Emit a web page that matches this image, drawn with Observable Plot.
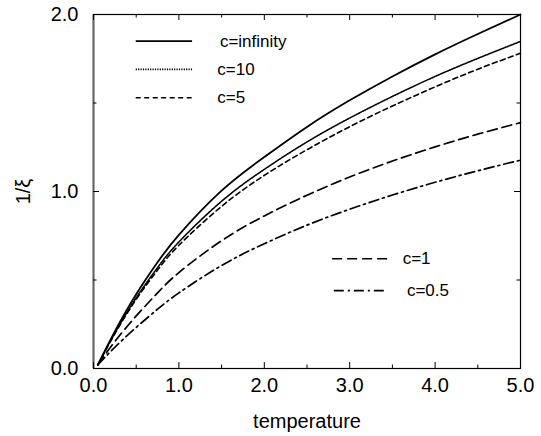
<!DOCTYPE html>
<html>
<head>
<meta charset="utf-8">
<script src="https://cdn.jsdelivr.net/npm/d3@7"></script>
<script src="https://cdn.jsdelivr.net/npm/@observablehq/plot@0.6"></script>
<style>
  html, body { margin: 0; padding: 0; background: #fff; }
  #chart svg { display: block; }
</style>
</head>
<body>
<div id="chart"></div>
<script>
// ---- data ----
const temperature = [0.05, 0.25, 0.5, 0.75, 1.0, 1.5, 2.0, 2.5, 3.0, 3.5, 4.0, 4.5, 5.0];
const cInfinity = [0.02, 0.21, 0.42, 0.60, 0.755, 1.005, 1.195, 1.365, 1.515, 1.65, 1.775, 1.89, 2.00];
const c10       = [0.02, 0.20, 0.40, 0.57, 0.715, 0.945, 1.125, 1.28, 1.415, 1.537, 1.65, 1.752, 1.848];
const c5        = [0.02, 0.196, 0.391, 0.556, 0.696, 0.916, 1.091, 1.236, 1.366, 1.483, 1.591, 1.691, 1.781];
const c1        = [0.02, 0.152, 0.297, 0.427, 0.542, 0.722, 0.862, 0.979, 1.082, 1.172, 1.252, 1.324, 1.389];
const c05       = [0.02, 0.12, 0.232, 0.335, 0.427, 0.582, 0.705, 0.81, 0.90, 0.98, 1.052, 1.117, 1.177];
const seriesLabels = ["c=infinity", "c=10", "c=5", "c=1", "c=0.5"];
const xTicks = [0, 1, 2, 3, 4, 5];
const yTicks = [0, 1, 2];
const xMinorTicks = [0.5, 1.5, 2.5, 3.5, 4.5];
const yMinorTicks = [0.5, 1.5];

// ---- styles ----
const seriesValues = [cInfinity, c10, c5, c1, c05];
const dashes = [null, "1.2,1.2", "5,3.5", "10,5", "10,4,2,4"];
const widths = [1.8, 1.6, 1.6, 1.7, 1.7];
// legend layout (data coordinates)
const legendPos = [
  {x1: 0.50, x2: 1.16, y: 1.85, tx: 1.48},
  {x1: 0.50, x2: 1.16, y: 1.69, tx: 1.45},
  {x1: 0.50, x2: 1.16, y: 1.53, tx: 1.45},
  {x1: 2.80, x2: 3.48, y: 0.62, tx: 3.62},
  {x1: 2.82, x2: 3.44, y: 0.44, tx: 3.67}
];

const rows = seriesValues.map((vals) => temperature.map((t, i) => ({t, v: vals[i]})));

const W = 541, H = 436;
const mT = 14, mB = 68, mL = 93, mR = 21;
const fh = H - mT - mB, fw = W - mL - mR;
const font = "'Liberation Sans', Arial, Helvetica, sans-serif";

const marks = [];
// frame
marks.push(Plot.frame({stroke: "#000", strokeWidth: 1.2}));
marks.push(Plot.ruleX([0], {stroke: "#666", strokeWidth: 2}));
// inward ticks on all sides
const major = 6, minor = 3.5;
marks.push(Plot.ruleX(xTicks, {x: d => d, insetTop: fh - major, stroke: "#000"}));
marks.push(Plot.ruleX(xTicks, {x: d => d, insetBottom: fh - major, stroke: "#000"}));
marks.push(Plot.ruleX(xMinorTicks, {x: d => d, insetTop: fh - minor, stroke: "#000"}));
marks.push(Plot.ruleX(xMinorTicks, {x: d => d, insetBottom: fh - minor, stroke: "#000"}));
marks.push(Plot.ruleY(yTicks, {y: d => d, insetRight: fw - major, stroke: "#000"}));
marks.push(Plot.ruleY(yTicks, {y: d => d, insetLeft: fw - major, stroke: "#000"}));
marks.push(Plot.ruleY(yMinorTicks, {y: d => d, insetRight: fw - minor, stroke: "#000"}));
marks.push(Plot.ruleY(yMinorTicks, {y: d => d, insetLeft: fw - minor, stroke: "#000"}));

// curves
rows.forEach((r, k) => {
  marks.push(Plot.line(r, {x: "t", y: "v", curve: "natural", stroke: "#000",
    strokeWidth: widths[k], strokeDasharray: dashes[k] || undefined}));
});

// legend
legendPos.forEach((p, k) => {
  marks.push(Plot.ruleY([p.y], {x1: p.x1, x2: p.x2, stroke: "#000",
    strokeWidth: widths[k], strokeDasharray: dashes[k] || undefined}));
  marks.push(Plot.text([seriesLabels[k]], {x: p.tx, y: p.y, text: d => d,
    textAnchor: "start", fontSize: 17, fill: "#000"}));
});

// axes
marks.push(Plot.axisX({ticks: xTicks, tickSize: 0, tickPadding: 9, tickFormat: d3.format(".1f"),
  fontSize: 20, label: "temperature", labelAnchor: "center", labelOffset: 59, labelArrow: "none"}));
marks.push(Plot.axisY({ticks: yTicks, tickSize: 0, tickPadding: 15, tickFormat: d3.format(".1f"),
  fontSize: 20, label: "1/ξ", labelAnchor: "center", labelOffset: 78, labelArrow: "none"}));

const chart = Plot.plot({
  width: W, height: H,
  marginTop: mT, marginBottom: mB, marginLeft: mL, marginRight: mR,
  x: {domain: [0, 5]},
  y: {domain: [0, 2]},
  style: {fontFamily: font, fontSize: "18px", color: "#000", background: "#fff", overflow: "visible"},
  marks
});
document.getElementById("chart").appendChild(chart);
</script>
</body>
</html>
